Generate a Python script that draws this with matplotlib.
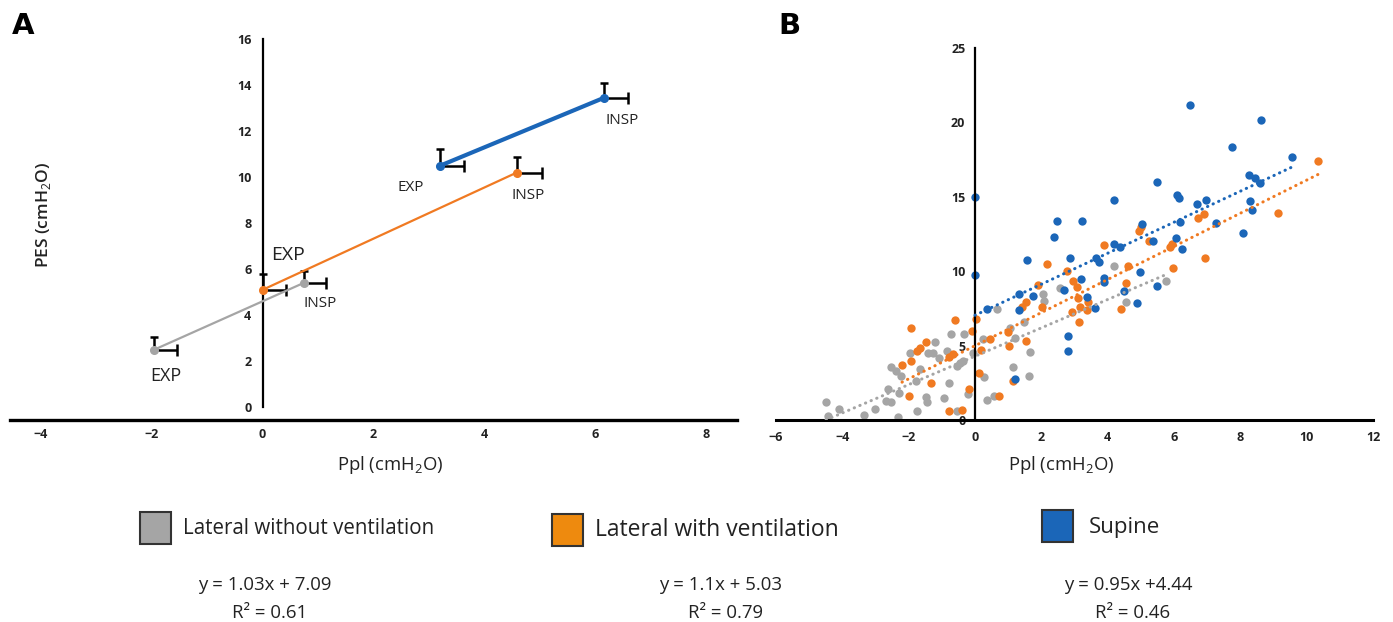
import numpy as np
import matplotlib
matplotlib.use("Agg")
import matplotlib.pyplot as plt
from matplotlib.patches import Rectangle

plt.rcParams['font.family'] = ['Open Sans', 'DejaVu Sans']
plt.rcParams['mathtext.fontset'] = 'custom'
plt.rcParams['mathtext.rm'] = 'Open Sans'

GRAY = '#A5A5A5'
ORANGE = '#F07A22'
BLUE = '#1B66B8'
LEG_ORANGE = '#EE8A0E'

# ---- panel A: mean EXP / INSP values, error only upward / rightward
a_series = ["Lateral without ventilation", "Lateral with ventilation", "Supine"]
a_ppl_exp = [-1.95, 0.0, 3.19]
a_ppl_insp = [0.75, 4.58, 6.15]
a_pes_exp = [2.49, 5.09, 10.48]
a_pes_insp = [5.40, 10.19, 13.44]
a_ppl_err_exp = [0.41, 0.42, 0.44]
a_ppl_err_insp = [0.40, 0.45, 0.44]
a_pes_err_exp = [0.55, 0.70, 0.72]
a_pes_err_insp = [0.52, 0.68, 0.66]

# ---- panel B: individual measurements
gray_x = [-4.49, -4.44, -4.10, -3.34, -3.03, -2.63, -2.69, -2.53, -2.32, -2.30,
          -2.53, -2.38, -2.24, -1.96, -1.77, -1.74, -1.65, -1.49, -1.45, -1.41,
          -1.28, -1.22, -1.08, -0.94, -0.79, -0.83, -0.71, -0.55, -0.53, -0.46,
          -0.37, -0.33, -0.22, -0.06, 0.24, 0.28, 0.37, 0.57, 0.67, 1.06,
          1.16, 1.20, 1.49, 1.63, 1.67, 2.05, 2.08, 2.57, 4.19, 4.55, 5.77]
gray_y = [1.19, 0.29, 0.74, 0.36, 0.74, 2.08, 1.30, 1.23, 0.18, 1.79,
          3.54, 3.32, 2.98, 4.50, 2.64, 0.58, 3.43, 1.52, 1.19, 4.48,
          4.48, 5.22, 4.17, 1.48, 2.46, 4.66, 5.78, 0.63, 3.65, 3.81,
          3.94, 5.78, 1.75, 4.50, 5.44, 2.91, 1.37, 1.64, 7.46, 6.16,
          3.54, 5.51, 6.56, 2.98, 4.55, 8.47, 8.02, 8.87, 10.37, 7.91, 9.36]

orange_x = [-1.93, -2.20, -1.98, -1.92, -1.74, -1.65, -1.47, -1.32, -0.79, -0.40,
            -0.61, -0.77, -0.67, -0.18, -0.10, 0.02, 0.12, 0.18, 0.46, 0.73,
            0.98, 1.04, 1.14, 1.53, 1.53, 1.43, 1.90, 2.02, 2.18, 2.78,
            2.91, 2.97, 3.08, 3.12, 3.18, 3.14, 3.42, 3.39, 3.88, 4.40,
            4.55, 4.61, 4.95, 5.01, 5.26, 5.89, 5.95, 5.97, 6.72, 6.91,
            6.94, 9.13, 10.34]
orange_y = [6.16, 3.70, 1.64, 3.99, 4.66, 4.82, 5.22, 2.46, 0.63, 0.67,
            6.72, 4.21, 4.44, 2.08, 5.96, 6.79, 3.16, 4.73, 5.44, 1.64,
            5.91, 5.00, 2.64, 5.29, 7.91, 7.62, 9.07, 7.62, 10.46, 9.99,
            7.24, 9.36, 8.96, 8.18, 7.62, 6.56, 7.91, 7.39, 11.74, 7.46,
            9.18, 10.37, 12.72, 12.95, 12.05, 11.60, 11.83, 10.19, 13.60, 13.84,
            10.86, 13.93, 17.43]

blue_x = [0.00, 0.00, 0.37, 1.34, 1.32, 1.74, 1.56, 1.20, 2.38, 2.46,
          2.85, 2.69, 2.81, 2.79, 3.19, 3.24, 3.39, 3.61, 3.64, 3.73,
          3.88, 3.88, 4.18, 4.18, 4.38, 4.50, 4.89, 4.98, 5.05, 5.38,
          5.50, 5.50, 6.09, 6.15, 6.06, 6.19, 6.23, 6.47, 6.70, 6.97,
          7.27, 7.74, 8.08, 8.25, 8.29, 8.35, 8.45, 8.62, 8.59, 9.57]
blue_y = [15.00, 9.77, 7.46, 8.47, 7.39, 8.36, 10.78, 2.76, 12.32, 13.40,
          10.90, 8.74, 5.67, 4.66, 9.50, 13.35, 8.24, 7.55, 10.86, 10.60,
          9.52, 9.25, 14.78, 11.83, 11.60, 8.65, 7.84, 9.92, 13.20, 12.03,
          16.00, 8.98, 15.14, 14.90, 12.25, 13.33, 11.51, 21.17, 14.49, 14.80,
          13.24, 18.32, 12.57, 16.46, 14.74, 14.14, 16.26, 20.18, 15.93, 17.65]

equations = ["y = 1.03x + 7.09", "y = 1.1x + 5.03", "y = 0.95x +4.44"]
r_squared = ["R\u00b2 = 0.61", "R\u00b2 = 0.79", "R\u00b2 = 0.46"]

fig = plt.figure(figsize=(13.93, 6.22), dpi=100)

# ================= panel A =================
axA = fig.add_axes([0.0072, 0.3248, 0.5219, 0.6125])
colors = [GRAY, ORANGE, BLUE]
widths = [1.6, 1.6, 3.0]
for i in range(3):
    xs = [a_ppl_exp[i], a_ppl_insp[i]]
    ys = [a_pes_exp[i], a_pes_insp[i]]
    xe = [a_ppl_err_exp[i], a_ppl_err_insp[i]]
    ye = [a_pes_err_exp[i], a_pes_err_insp[i]]
    axA.errorbar(xs, ys, xerr=[[0, 0], xe], yerr=[[0, 0], ye], fmt='none',
                 ecolor='black', elinewidth=1.8, capsize=0, zorder=2)
    axA.plot(np.array(xs), np.array(ys) + np.array(ye), ls='none', marker='_',
             ms=6, mew=1.8, color='black', zorder=2)
    axA.plot(np.array(xs) + np.array(xe), ys, ls='none', marker='|',
             ms=8, mew=1.8, color='black', zorder=2)
    axA.plot(xs, ys, color=colors[i], lw=widths[i], marker='o', ms=5.5, zorder=3)

lab_kw = dict(ha='center', va='center', color='#222222')
axA.text(-1.75, 1.36, "EXP", fontsize=13, **lab_kw)
axA.text(1.04, 4.48, "INSP", fontsize=11, **lab_kw)
axA.text(0.45, 6.6, "EXP", fontsize=14, **lab_kw)
axA.text(4.79, 9.2, "INSP", fontsize=11, **lab_kw)
axA.text(2.67, 9.54, "EXP", fontsize=11, **lab_kw)
axA.text(6.48, 12.46, "INSP", fontsize=11, **lab_kw)

axA.set_xlim(-4.55, 8.55)
axA.set_ylim(-0.57, 16)
axA.spines['top'].set_visible(False)
axA.spines['right'].set_visible(False)
axA.spines['left'].set_position(('data', 0))
axA.spines['left'].set_bounds(0, 16)
axA.spines['left'].set_linewidth(1.6)
axA.spines['bottom'].set_linewidth(2.4)
axA.set_xticks(range(-4, 9, 2))
axA.set_yticks(range(0, 17, 2))
axA.tick_params(axis='both', length=0, labelsize=9, colors='#222222')
axA.tick_params(axis='y', pad=8)
axA.tick_params(axis='x', pad=6)
for t in axA.get_xticklabels() + axA.get_yticklabels():
    t.set_fontweight('bold')

fig.text(0.280, 0.2524, r"Ppl (cmH$_2$O)", ha='center', va='center', fontsize=13.3, color='#222222')
fig.text(0.031, 0.655, r"PES (cmH$_2$O)", ha='center', va='center', rotation=90,
         fontsize=12.5, fontweight='semibold', color='#222222')

# ================= panel B =================
axB = fig.add_axes([0.5571, 0.3248, 0.4285, 0.5980])
axB.scatter(gray_x, gray_y, s=36, color=GRAY, linewidths=0, zorder=2)
axB.scatter(orange_x, orange_y, s=36, color=ORANGE, linewidths=0, zorder=2)
axB.scatter(blue_x, blue_y, s=36, color=BLUE, linewidths=0, zorder=2)
for xs, ys, c in [(gray_x, gray_y, GRAY), (orange_x, orange_y, ORANGE), (blue_x, blue_y, BLUE)]:
    k, b = np.polyfit(xs, ys, 1)
    xl = np.array([min(xs), max(xs)])
    axB.plot(xl, k * xl + b, color=c, lw=2.2, ls=(0, (0.1, 1.9)),
             dash_capstyle='round', zorder=3)

axB.set_xlim(-6, 12)
axB.set_ylim(0, 25)
axB.spines['top'].set_visible(False)
axB.spines['right'].set_visible(False)
axB.spines['left'].set_position(('data', 0))
axB.spines['left'].set_linewidth(1.6)
axB.spines['bottom'].set_linewidth(2.2)
axB.set_xticks(range(-6, 13, 2))
axB.set_yticks(range(0, 26, 5))
axB.tick_params(axis='both', length=0, labelsize=9, colors='#222222')
axB.tick_params(axis='y', pad=7)
axB.tick_params(axis='x', pad=8)
for t in axB.get_xticklabels() + axB.get_yticklabels():
    t.set_fontweight('bold')

fig.text(0.762, 0.2524, r"Ppl (cmH$_2$O)", ha='center', va='center', fontsize=13.3, color='#222222')

# panel letters
fig.text(0.0086, 0.981, "A", fontsize=21, fontweight='bold', family='DejaVu Sans', va='top')
fig.text(0.5585, 0.981, "B", fontsize=21, fontweight='bold', family='DejaVu Sans', va='top')

# ================= legend / equations =================
sq = [(0.1005, 0.1254), (0.3963, 0.1222), (0.7480, 0.1286)]
sq_colors = [GRAY, LEG_ORANGE, BLUE]
for (x0, y0), c in zip(sq, sq_colors):
    fig.add_artist(Rectangle((x0, y0), 0.0225, 0.0508, transform=fig.transFigure,
                             facecolor=c, edgecolor='#333333', lw=1.5))
fig.text(0.1314, 0.1511, a_series[0], fontsize=14.8, va='center', color='#222222')
fig.text(0.4271, 0.1480, a_series[1], fontsize=16.5, va='center', color='#222222')
fig.text(0.7818, 0.1527, a_series[2], fontsize=16, va='center', color='#222222')

eq_x = [0.1902, 0.5176, 0.8098]
for i in range(3):
    fig.text(eq_x[i], 0.0595, equations[i], fontsize=13.4, ha='center', va='center', color='#222222')
    fig.text(eq_x[i] + 0.003, 0.0145, r_squared[i], fontsize=13.4, ha='center', va='center', color='#222222')

fig.savefig("out.png", dpi=100)
